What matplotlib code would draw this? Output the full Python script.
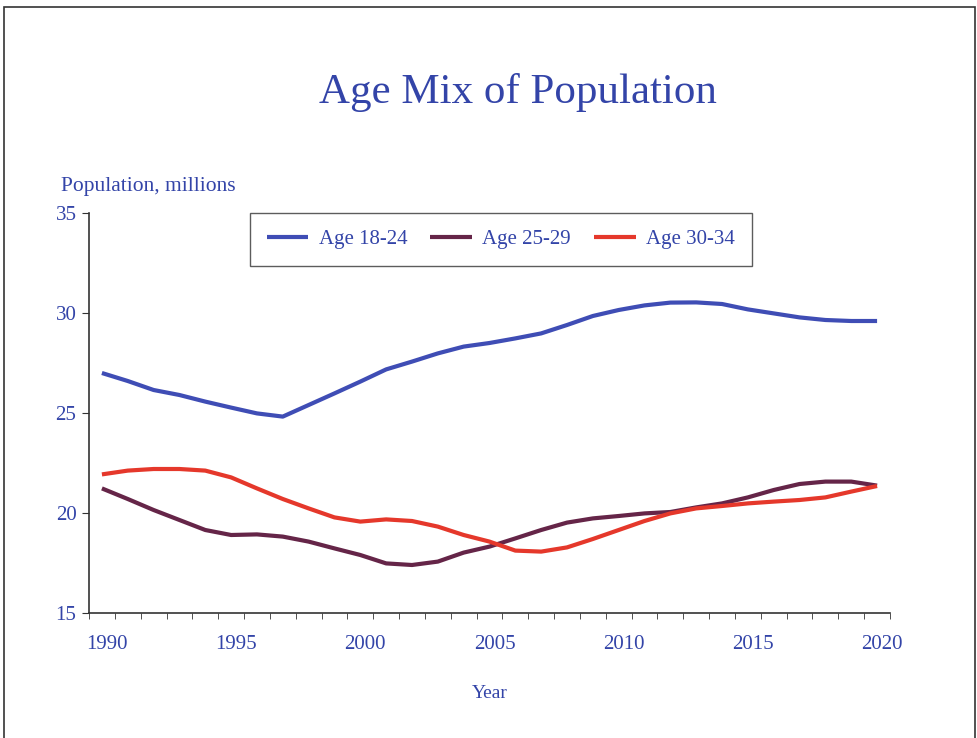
import numpy as np
import matplotlib
matplotlib.use("Agg")
from matplotlib import pyplot as plt
from matplotlib.patches import Rectangle
from matplotlib.ticker import MultipleLocator
from matplotlib.transforms import ScaledTranslation

years = list(range(1990, 2021))

age_18_24 = [27.0, 26.6, 26.15, 25.9, 25.57, 25.27, 24.98, 24.82, 25.4, 25.98,
             26.57, 27.18, 27.57, 27.98, 28.32, 28.5, 28.73, 28.98, 29.4, 29.85,
             30.15, 30.38, 30.52, 30.53, 30.45, 30.18, 29.98, 29.78, 29.65, 29.6,
             29.6]
age_25_29 = [21.23, 20.7, 20.15, 19.65, 19.15, 18.9, 18.93, 18.82, 18.57, 18.23,
             17.9, 17.48, 17.4, 17.57, 18.02, 18.32, 18.73, 19.15, 19.52, 19.73,
             19.85, 19.98, 20.05, 20.28, 20.48, 20.78, 21.15, 21.45, 21.57, 21.57,
             21.37]
age_30_34 = [21.93, 22.12, 22.2, 22.2, 22.12, 21.78, 21.23, 20.7, 20.23, 19.78,
             19.57, 19.68, 19.6, 19.32, 18.9, 18.57, 18.12, 18.07, 18.28, 18.7,
             19.15, 19.6, 19.98, 20.23, 20.35, 20.48, 20.57, 20.65, 20.78, 21.07,
             21.35]

series_labels = ["Age 18-24", "Age 25-29", "Age 30-34"]
series_colors = ["#3F4DB5", "#652548", "#E5382B"]
text_color = "#3344A8"

plt.rcParams["font.family"] = ["Liberation Serif", "DejaVu Serif"]

W, H = 978, 738
fig = plt.figure(figsize=(W / 100, H / 100), dpi=100)

# frame drawn around the whole slide
fig.patches.append(Rectangle((4 / W, -0.01), 971 / W, 1.01 - 7 / H,
                             transform=fig.transFigure, fill=False,
                             edgecolor="#333333", linewidth=1.2))

ax = fig.add_axes([89 / W, (H - 613) / H, 801 / W, 400 / H])

for vals, label, color in zip([age_18_24, age_25_29, age_30_34],
                              series_labels, series_colors):
    ax.plot(years, vals, color=color, lw=3, label=label,
            solid_capstyle="butt")

ax.set_xlim(1989.5, 2020.5)
ax.set_ylim(15, 35)
ax.xaxis.set_major_locator(MultipleLocator(5))
ax.xaxis.set_minor_locator(MultipleLocator(1, offset=0.5))
ax.yaxis.set_major_locator(MultipleLocator(5))
ax.tick_params(axis="x", which="major", length=0, pad=16,
               labelsize=15, labelcolor=text_color)
ax.tick_params(axis="x", which="minor", length=4, direction="out",
               color="#333333")
ax.tick_params(axis="y", which="major", length=5, direction="out",
               labelsize=15, labelcolor=text_color, color="#333333", pad=4)

# year labels sit a little right of the category centres
shift = ScaledTranslation(5 / 100, 0, fig.dpi_scale_trans)
for lbl in ax.get_xticklabels():
    lbl.set_transform(lbl.get_transform() + shift)

for side in ["top", "right"]:
    ax.spines[side].set_visible(False)
for side in ["left", "bottom"]:
    ax.spines[side].set_color("#333333")
    ax.spines[side].set_linewidth(1.2)

ax.set_xlabel("Year", fontsize=14, color=text_color, labelpad=22)

fig.text(518 / W, 1 - 93 / H, "Age Mix of Population", fontsize=31,
         color=text_color, ha="center", va="center")
fig.text(61 / W, 1 - 186 / H, "Population, millions", fontsize=15.5,
         color=text_color, ha="left", va="center")

leg = ax.legend(loc="upper left", bbox_to_anchor=(161 / 801, 1.0),
                borderaxespad=0, ncol=3, frameon=True, fancybox=False,
                fontsize=15, handlelength=2.0, handletextpad=0.5,
                columnspacing=1.1, borderpad=0.8, labelcolor=text_color)
leg.get_frame().set_edgecolor("#333333")
leg.get_frame().set_linewidth(1.0)

fig.savefig("out.png", dpi=100)
